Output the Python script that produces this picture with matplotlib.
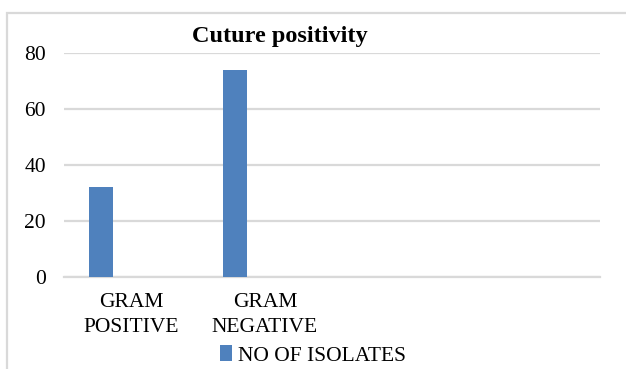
import numpy as np
import matplotlib
matplotlib.use("Agg")
import matplotlib.pyplot as plt
from matplotlib.patches import Rectangle

# Chart data
categories = ["GRAM\nPOSITIVE", "GRAM\nNEGATIVE", "", ""]
isolates = [32, 74, np.nan, np.nan]
series_name = "NO OF ISOLATES"
y_ticks = [0, 20, 40, 60, 80]
title = "Cuture positivity"

W, H = 626, 369
plt.rcParams["font.family"] = ["Liberation Serif", "DejaVu Serif"]

fig = plt.figure(figsize=(W / 100, H / 100), dpi=100)
ax = fig.add_axes([64 / W, 1 - 276.7 / H, (600 - 64) / W, (276.7 - 53.3) / H])

bar_color = "#4f81bd"
grid_color = "#d9d9d9"

x = np.arange(len(categories))
bars = ax.bar(x - 0.224, isolates, width=0.179, color=bar_color,
              label=series_name, zorder=3)

ax.set_xlim(-0.5, len(categories) - 0.5)
ax.set_ylim(0, 80)
ax.set_yticks(y_ticks)
ax.set_xticks(x)
ax.set_xticklabels(categories, linespacing=1.4)
ax.yaxis.grid(True, color=grid_color, linewidth=1.6, zorder=0)
ax.set_axisbelow(True)
for side in ["top", "right", "left"]:
    ax.spines[side].set_visible(False)
ax.spines["bottom"].set_color(grid_color)
ax.spines["bottom"].set_linewidth(1.6)
ax.tick_params(axis="y", length=0, pad=13, labelsize=15.5)
ax.tick_params(axis="x", length=0, pad=12, labelsize=15.5)

fig.text(280 / W, 1 - 41.7 / H, title, ha="center", va="baseline",
         fontsize=17.5, fontweight="bold")

fig.legend(handles=[bars], labels=[series_name], loc="center",
           bbox_to_anchor=(313 / W, 1 - 355.5 / H), frameon=False,
           fontsize=15.5, handlelength=0.55, handleheight=0.75,
           handletextpad=0.3, borderpad=0)

# Outer chart frame
fig.patches.append(Rectangle((7 / W, -0.2), 1.2, 1.2 - 12.7 / H,
                             transform=fig.transFigure, fill=False,
                             edgecolor=grid_color, linewidth=1.6))

fig.savefig("out.png", dpi=100)
